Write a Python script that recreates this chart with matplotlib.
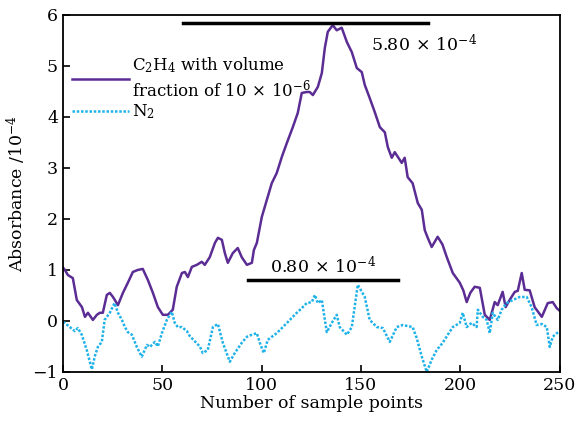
import matplotlib
matplotlib.use('Agg')
import matplotlib.pyplot as plt

plt.rcParams['font.family'] = ['DejaVu Serif']
plt.rcParams['mathtext.fontset'] = 'dejavuserif'

# C2H4 curve (purple)
c2h4_x = [0, 1, 2.5, 5, 7, 9.6, 11.1, 12.6, 15.1, 17.1, 18.6, 20.1, 22.1, 23.6, 25.2, 27.7,
          30.2, 32.7, 35.2, 37.7, 40.2, 42.8, 45.3, 47.8, 50.3, 52.8, 55.3, 57.3, 59.9, 61.4,
          62.9, 64.9, 67.4, 69.9, 71.4, 73.9, 76.5, 78, 80, 81.5, 83, 85.5, 88, 90, 92.6,
          95.1, 96.1, 97.6, 100.1, 102.6, 105.1, 107.6, 110.2, 112.7, 115.7, 118.2, 120.2,
          122.7, 124.2, 125.8, 128.3, 130.3, 131.8, 133.3, 135.8, 137.8, 140.3, 142.9, 145.4,
          147.9, 150.4, 151.9, 154.4, 156.9, 159.5, 162, 163.5, 165.5, 167, 168.5, 170.5, 172,
          173.5, 176, 178.6, 180.6, 182.1, 183.6, 185.6, 188.6, 191, 193.2, 196.2, 199.7,
          201.5, 203.2, 205, 207.2, 209.8, 212.3, 214.8, 217.3, 218.8, 221.3, 222.8, 224.8,
          227.4, 228.9, 230.9, 232.4, 234.9, 237.4, 241, 244, 246.5, 248.5, 250]
c2h4_y = [1.05, 1.0, 0.9, 0.84, 0.41, 0.27, 0.08, 0.16, 0.02, 0.12, 0.16, 0.16, 0.51, 0.55, 0.47, 0.31,
          0.55, 0.75, 0.96, 1.0, 1.02, 0.8, 0.55, 0.27, 0.12, 0.12, 0.22, 0.67, 0.94, 0.96,
          0.86, 1.06, 1.1, 1.16, 1.1, 1.25, 1.53, 1.63, 1.59, 1.33, 1.14, 1.33, 1.43, 1.25, 1.1,
          1.14, 1.39, 1.53, 2.04, 2.37, 2.7, 2.9, 3.22, 3.49, 3.8, 4.08, 4.47,
          4.49, 4.49, 4.43, 4.59, 4.86, 5.35, 5.67, 5.8, 5.7, 5.75, 5.47, 5.27,
          4.96, 4.88, 4.63, 4.37, 4.1, 3.8, 3.7, 3.41, 3.2, 3.31, 3.22, 3.1, 3.2,
          2.82, 2.7, 2.31, 2.18, 1.78, 1.63, 1.45, 1.65, 1.5, 1.25, 0.94, 0.75,
          0.6, 0.37, 0.55, 0.67, 0.65, 0.12, 0.02, 0.37, 0.31, 0.57, 0.27, 0.41,
          0.57, 0.59, 0.94, 0.61, 0.6, 0.27, 0.08, 0.35, 0.37, 0.25, 0.2]

# N2 curve (blue, dotted)
n2_x = [0, 1, 3.5, 6, 7.5, 9.5, 12, 14.6, 16, 17.6, 19.6, 21, 23.6, 26, 27.7, 29.7, 31.2, 32.7,
        34.7, 37.2, 39.7, 42.3, 43.8, 46.3, 47.8, 49.8, 52.3, 54.8, 56.3, 57.8, 59.9, 62.4,
        63.9, 68.9, 70.4, 72.9, 75.5, 78, 80.5, 84, 86.5, 90, 92.6, 95.1, 97.6, 99.1, 101.1,
        103.1, 107.6, 110.7, 114.2, 117.7, 120.2, 122.7, 125.3, 126.8, 128.3, 130.3, 132.8,
        135.3, 137.8, 139.3, 142.9, 145.4, 148.4, 151.9, 154.4, 158, 161, 164.5, 168, 171,
        176, 178, 180.6, 183.1, 185.6, 188.1, 191.1, 193.7, 196.2, 199.7, 201.2, 203.2,
        205.7, 208.2, 208.8, 211.3, 213.3, 214.8, 216.3, 218.8, 220.8, 223.3, 226.4, 229.9,
        233.4, 235.9, 238.4, 241, 243.5, 245, 246.5, 248.5, 250]
n2_y = [-0.02, -0.04, -0.12, -0.2, -0.14, -0.27, -0.57, -0.95, -0.7, -0.51, -0.41, 0.02, 0.16, 0.35, 0.16, 0.02, -0.12, -0.22,
        -0.27, -0.51, -0.7, -0.47, -0.51, -0.41, -0.5, -0.24, 0.02, 0.18, -0.04, -0.12, -0.12, -0.2,
        -0.3, -0.5, -0.63, -0.57, -0.12, -0.06, -0.43, -0.8, -0.63, -0.43, -0.31, -0.27, -0.24, -0.43, -0.63,
        -0.37, -0.24, -0.12, 0.02, 0.16, 0.25, 0.35, 0.37, 0.51, 0.35, 0.41, -0.22,
        -0.04, 0.12, -0.12, -0.27, -0.12, 0.71, 0.47, 0.02, -0.12, -0.14, -0.41, -0.12, -0.08,
        -0.12, -0.33, -0.7, -1.0, -0.76, -0.57, -0.43, -0.27, -0.12, -0.04, 0.16, -0.12,
        -0.04, -0.12, 0.22, 0.08, 0.02, -0.24, 0.16, 0.02, 0.22, 0.35, 0.41, 0.47,
        0.47, 0.27, -0.08, -0.06, -0.12, -0.51, -0.31, -0.24, -0.22]

peak_level = 5.85
noise_level = 0.80

fig = plt.figure(figsize=(5.77, 4.28), dpi=100)
ax = fig.add_axes([0.109, 0.131, 0.861, 0.834])

ax.plot(c2h4_x, c2h4_y, color='#5b2d94', lw=1.8,
        label='C$_2$H$_4$ with volume\nfraction of 10$\\,\\times\\,$10$^{-6}$')
ax.plot(n2_x, n2_y, color='#1eb2e8', lw=1.8, linestyle=(0, (1.0, 0.7)), label='N$_2$')

# reference bars
ax.plot([60.5, 183.5], [peak_level, peak_level], color='black', lw=2.5)
ax.plot([93, 168.5], [noise_level, noise_level], color='black', lw=2.5)
ax.text(155, 5.42, '5.80$\\,\\times\\,$10$^{-4}$', fontsize=12.5, va='center')
ax.text(104, 1.07, '0.80$\\,\\times\\,$10$^{-4}$', fontsize=12.5, va='center')

ax.set_xlim(0, 250)
ax.set_ylim(-1, 6)
ax.set_xticks([0, 50, 100, 150, 200, 250])
ax.set_yticks([-1, 0, 1, 2, 3, 4, 5, 6])
ax.tick_params(direction='in', length=5, width=1.2, labelsize=12.5)
for s in ax.spines.values():
    s.set_linewidth(1.3)

ax.set_xlabel('Number of sample points', fontsize=12.5, labelpad=1)
ax.set_ylabel('Absorbance /10$^{-4}$', fontsize=12.5, labelpad=3)

ax.legend(loc='upper left', bbox_to_anchor=(0.005, 0.905), frameon=False, fontsize=12,
          handlelength=3.4, handletextpad=0.2, labelspacing=0.1, borderaxespad=0)

fig.savefig('out.png', dpi=100)
